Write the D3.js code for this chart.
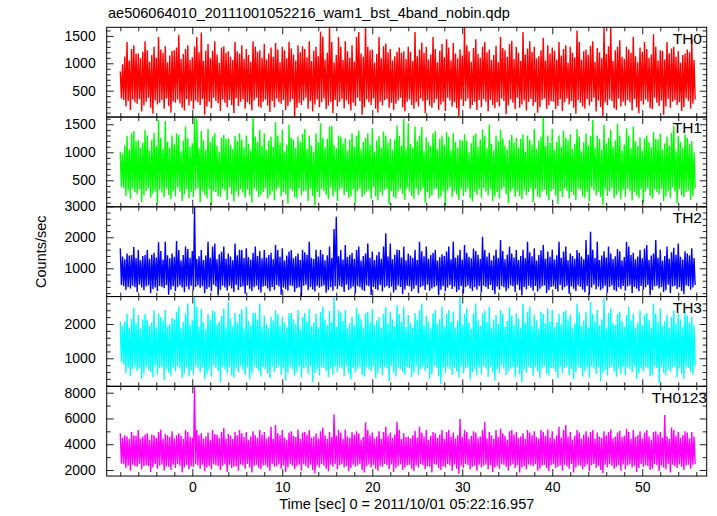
<!DOCTYPE html>
<html><head><meta charset="utf-8">
<script src="https://cdn.jsdelivr.net/npm/d3@7"></script>
<style>
body{margin:0;background:#fff}
svg{display:block}
text{font-family:"Liberation Sans",Arial,Helvetica,sans-serif;fill:#000}
</style>
</head><body>
<svg id="c" width="717" height="516"></svg>
<script>
// ---------------- data ----------------
const title = "ae506064010_20111001052216_wam1_bst_4band_nobin.qdp";
const xLabel = "Time [sec] 0 = 2011/10/01 05:22:16.957";
const yLabel = "Counts/sec";
const bandNames = ["TH0", "TH1", "TH2", "TH3", "TH0123"];
const bandColors = ["#ff0000", "#00ff00", "#0000ff", "#00ffff", "#ff00ff"];

// light curves as per-0.25 s bin maxima / minima (counts/sec), first bin starts at t = -8 s
const binStart = -8;
const binWidth = 0.25;

const th0Hi = [
  850,980,1120,1390,1050,1260,1330,1180,1180,1090,1210,1400,1240,1030,1150,1300,1100,1480,1250,1190,1310,1020,1140,1230,1240,1290,1520,1080,1170,1260,1330,1060,
  1110,1300,1480,1200,1560,1040,1230,1350,1090,1230,1400,1160,1010,1290,1310,1190,1220,1120,1060,1390,1220,1180,1330,1080,1260,1150,1030,1400,1300,1210,1240,1100,
  1350,1070,1180,1290,1120,1370,1250,1020,1300,1240,1090,1390,1270,1160,1050,1330,1200,1310,1260,1110,1400,1040,1230,1300,1130,1580,1490,1070,1190,1660,1390,1020,
  1150,1480,1300,1060,1400,1220,1100,1330,1030,1480,1570,1180,1120,1660,1300,1240,1250,1010,1170,1480,1090,1310,1360,1200,1260,1050,1130,1210,1290,1190,1220,1080,
  1300,1210,1040,1570,1130,1250,1380,1190,1300,1070,1160,1480,1260,1020,1230,1350,1110,1440,1290,1050,1370,1180,1090,1250,1140,1660,1330,1220,1030,1280,1440,1170,
  1100,1300,1390,1200,1250,1060,1150,1320,1020,1480,1280,1240,1120,1350,1410,1080,1300,1190,1040,1570,1160,1270,1400,1210,1300,1090,1130,1240,1460,1050,1330,1180,
  1290,1230,1070,1390,1140,1260,1330,1010,1300,1190,1110,1600,1390,1060,1220,1250,1150,1320,1400,1030,1280,1200,1090,1660,1170,1310,1650,1040,1240,1300,1420,1120,
  1080,1300,1250,1190,1480,1130,1020,1290,1210,1390,1260,1100,1160,1530,1300,1050,1240,1230,1070,1390,1180,1270,1300,1120,1220,1010,1150,1180,1250,1200,1440,1060];
const th0Lo = [
  360,330,210,310,150,340,290,260,350,120,230,300,370,190,80,320,250,280,330,170,360,220,100,300,280,340,270,190,140,350,230,310,
  160,320,290,240,350,60,210,300,180,370,310,270,130,340,280,200,330,240,90,360,220,300,350,170,290,250,140,320,370,210,190,300,
  340,230,110,310,200,360,290,260,330,150,220,300,350,30,190,280,240,320,370,170,310,120,250,340,200,290,360,160,230,300,90,330,
  210,300,350,180,320,250,140,280,220,370,310,60,200,340,290,240,360,170,100,300,230,330,350,190,280,150,260,320,370,200,120,300,
  340,240,170,290,210,360,310,90,330,230,190,280,350,150,250,300,130,370,320,210,290,180,40,340,220,310,360,170,240,300,150,330,
  200,350,300,120,330,240,180,290,210,360,310,70,230,340,280,160,370,190,250,320,140,300,350,220,290,100,200,330,360,170,240,310,
  300,160,220,340,130,290,360,250,310,190,80,330,280,210,170,350,230,300,370,120,320,200,30,290,240,340,310,180,150,360,210,300,
  230,330,290,140,350,200,90,310,250,340,300,180,160,370,280,220,320,60,210,350,190,300,330,240,290,130,200,360,310,170,260,340];

const th1Hi = [
  1010,980,1120,1290,1050,1340,1380,1200,1220,1090,1170,1400,1300,1030,1230,1350,1110,1580,1260,1060,1560,1190,1080,1300,1140,1340,1310,1020,1210,1460,1250,1100,
  1160,1630,1600,1070,1380,1220,1040,1420,1180,1280,1340,1110,1010,1260,1310,1240,1250,1130,1060,1290,1200,1340,1230,1090,1300,1150,1030,1650,1280,1190,1400,1120,
  1340,1050,1210,1280,1100,1540,1300,1170,1400,1020,1140,1490,1260,1230,1080,1280,1190,1330,1420,1060,1300,1120,1010,1340,1180,1520,1260,1090,1240,1460,1470,1130,
  1070,1300,1280,1160,1250,1030,1220,1340,1100,1300,1390,1050,1190,1260,1340,1140,1430,1010,1210,1290,1080,1370,1300,1170,1240,1040,1230,1480,1290,1120,1600,1060,
  1520,1150,1090,1460,1200,1300,1450,1020,1270,1180,1110,1340,1380,1060,1240,1300,1130,1360,1280,1040,1340,1190,1080,1230,1210,1320,1210,1000,1160,1300,1340,1100,
  1230,1400,1290,1070,1490,1150,1030,1300,1200,1400,1250,1120,1050,1220,1310,1180,1260,1090,1240,1320,1010,1300,1230,1140,1420,1060,1210,1280,1650,1110,1300,1170,
  1420,1040,1190,1300,1100,1390,1260,1220,1320,1060,1150,1410,1280,1020,1180,1340,1130,1290,1580,1080,1300,1240,1050,1490,1160,1260,1400,1100,1210,1510,1290,1030,
  1140,1430,1300,1070,1460,1200,1110,1270,1030,1250,1300,1180,1090,1360,1240,1230,1330,1050,1160,1280,1120,1350,1470,1010,1290,1190,1080,1320,1260,1150,1200,1000];
const th1Lo = [
  380,360,220,320,170,350,290,250,340,110,230,310,360,190,260,300,90,330,280,200,350,240,160,310,210,370,300,130,250,340,180,290,
  200,330,360,110,300,240,180,340,60,310,290,220,200,350,320,150,370,250,120,300,210,340,280,190,330,230,100,360,310,200,240,290,
  350,170,230,300,140,330,370,210,290,250,80,340,310,200,180,360,230,300,320,130,350,220,50,290,200,340,310,240,160,370,210,300,
  130,330,360,240,290,190,220,340,100,310,350,200,250,300,320,170,370,210,140,290,230,330,350,70,310,200,180,300,340,250,150,360,
  300,220,160,340,240,310,360,100,290,190,230,330,350,170,210,300,40,320,370,200,310,250,150,340,220,290,350,180,120,300,240,330,
  190,360,300,230,340,130,210,290,170,330,370,250,90,310,350,200,300,220,160,320,240,290,360,110,340,210,190,300,330,230,140,310,
  340,230,80,300,200,360,310,170,290,240,150,350,330,210,190,300,120,370,320,230,290,200,60,340,220,310,360,180,240,300,160,330,
  200,350,310,140,290,230,190,340,100,300,360,220,170,330,290,250,350,130,210,310,180,370,300,90,340,230,200,290,320,150,220,360];

const th2Hi = [
  1640,1380,1290,1480,1410,1430,1690,1330,1590,1260,1400,1430,1590,1310,1440,1500,1350,1840,1560,1280,1860,1420,1320,1480,1370,1880,1590,1250,1430,1700,1620,1340,
  1560,2970,1300,1390,1590,1270,1410,1860,1340,1700,1800,1290,1450,1530,1700,1310,1480,1380,1260,1800,1420,1600,1590,1330,1650,1360,1280,1500,1700,1400,1560,1320,
  1590,1350,1430,1500,1290,1750,1590,1370,1650,1250,1410,1540,1590,1320,1390,1480,1270,1590,1520,1440,1860,1340,1300,1600,1380,1590,1450,1260,1420,1700,1330,2270,
  2660,1390,1590,1280,1750,1360,1430,1500,1300,1590,1700,1250,1400,1480,1800,1340,1540,1270,1420,1530,1310,1700,2130,1380,1800,1290,1440,1600,1590,1350,1700,1260,
  1480,1410,1330,1600,1270,1860,1550,1390,1700,1310,1430,1500,1590,1250,1360,1450,1400,1540,1700,1290,1860,1340,1420,1600,1280,1750,1500,1370,1320,1640,1560,1440,
  1300,2020,1590,1380,1500,1260,1410,1600,1330,1910,1560,1290,1440,1700,1480,1350,1590,1270,1400,1600,1320,1860,1520,1390,1650,1250,1430,1580,1750,1310,1540,1370,
  1600,1280,1420,1860,1340,1540,1700,1260,1480,1400,1310,1590,1500,1380,1290,1910,1440,2180,1600,1330,1860,1270,1410,1550,1350,1700,1480,1300,1390,1620,1550,1250,
  1360,1860,1700,1430,1500,1290,1380,1590,1320,1640,1750,1270,1410,1480,1910,1340,1600,1250,1400,1700,1310,1520,1660,1440,1800,1370,1280,1550,1480,1420,1650,1330];
const th2Lo = [
  460,420,300,400,350,440,390,240,470,380,290,410,450,200,330,380,270,430,400,360,460,150,310,420,260,390,450,380,230,410,320,440,
  290,400,450,370,420,200,330,390,260,470,410,120,310,440,380,280,430,350,240,460,300,400,420,180,450,340,270,390,440,310,220,410,
  430,350,260,400,300,460,410,150,380,330,280,450,420,240,360,390,100,440,470,290,400,320,250,430,370,410,450,210,300,390,280,420,
  330,440,400,240,470,300,350,410,200,430,390,310,270,450,420,140,400,330,290,460,250,380,430,360,410,220,300,450,400,170,320,440,
  410,260,340,450,200,390,430,300,470,280,350,400,440,130,310,420,260,380,460,330,410,240,300,430,190,400,450,350,270,390,310,420,
  220,440,400,330,460,290,160,410,310,430,390,260,350,450,420,240,470,300,120,400,320,440,380,280,430,250,340,410,450,200,300,400,
  420,330,250,460,300,390,440,180,410,340,270,450,400,310,230,430,150,380,470,320,410,290,350,440,210,400,450,300,260,390,330,430,
  280,410,450,200,400,340,260,430,310,390,460,130,300,420,440,350,400,240,290,470,200,410,430,330,390,270,160,450,420,310,380,460];

const th3Hi = [
  2070,1950,2080,2300,1900,2150,2480,2020,2260,1870,2130,2300,2120,1960,2050,2400,1890,2310,2200,2100,2410,1930,2000,2180,2140,2360,2520,1880,2060,2300,2600,1980,
  2110,2780,2500,1920,2440,2040,1860,2300,2120,2400,2350,1990,2070,2230,2450,1900,2650,2150,1940,2320,2030,2290,2430,1870,2500,2090,1970,2330,2310,2140,2600,1910,
  2250,2010,1880,2200,2100,2400,2300,1950,2210,2060,1900,2310,2320,2130,1990,2410,1860,2200,2320,2080,2440,1930,2040,2300,1890,2350,2500,2120,1970,2380,2050,2790,
  1920,2400,2340,2090,2410,1870,2020,2210,1960,2470,2300,2140,1900,2310,2360,2050,2440,1980,2110,2210,1880,2300,2500,2000,2360,2130,1940,2550,2300,2070,2500,1910,
  2260,2030,1890,2320,2120,2400,2600,1960,2250,2080,1870,2310,2400,2010,2140,2510,1930,2300,2410,2060,2350,1900,2100,2790,1980,2300,2460,2040,1860,2310,2600,2120,
  1950,2310,2400,2070,2500,1880,2130,2260,2000,2410,2300,1920,2090,2480,2250,1970,2310,2150,1890,2600,2040,2350,2500,1940,2280,2110,1870,2360,2300,2020,2460,2080,
  2410,1910,2060,2300,1990,2350,2400,2130,2280,1880,2020,2600,2330,1950,2100,2360,1900,2650,2300,2070,2410,1960,2140,2750,1870,2330,2460,2030,1980,2300,2350,2090,
  1930,2260,2500,2110,2300,1890,2040,2400,1970,2280,2320,2120,1900,2600,2310,2060,2460,1950,2080,2260,1880,2210,2400,2010,2300,2140,1920,2360,2250,2050,2210,1960];
const th3Lo = [
  900,820,560,720,480,690,760,620,700,400,550,740,670,600,450,780,530,710,750,350,680,580,500,730,620,770,700,430,560,740,480,660,
  520,760,700,600,730,390,540,680,470,790,720,620,300,750,690,560,740,500,440,710,590,770,670,510,730,380,560,760,700,620,470,740,
  690,560,420,750,600,720,780,520,700,350,580,740,680,490,610,760,440,710,730,540,770,300,570,690,500,750,720,620,450,700,520,760,
  600,740,700,480,770,550,380,720,590,690,750,510,460,730,680,620,760,420,560,710,500,740,700,330,780,580,470,720,690,610,520,750,
  720,450,590,760,510,690,740,620,710,400,540,770,730,480,250,700,570,750,680,520,720,610,440,760,560,700,740,380,590,690,500,730,
  540,760,710,460,740,600,350,690,570,780,720,510,620,700,750,450,730,530,300,680,580,760,710,490,740,610,430,700,770,550,500,720,
  700,600,420,740,560,720,770,510,690,380,590,750,710,470,620,730,440,760,700,540,740,330,580,680,500,720,760,610,460,700,540,750,
  510,730,690,590,760,400,560,710,620,740,700,470,530,770,720,280,750,580,500,690,610,730,760,450,700,550,390,740,720,600,520,780];

const th0123Hi = [
  4850,4500,4700,4600,4400,4950,4700,4650,5100,4450,4600,4750,4850,4350,4750,4700,4500,4950,5150,4400,4800,4700,4550,5000,4450,4700,4850,4650,4400,5100,4950,4600,
  4500,8450,5100,4700,4850,4400,4600,4900,4350,5100,4800,4750,4500,4950,5250,4450,4800,4650,4400,4950,4700,5100,4850,4550,4950,4350,4600,5000,4700,4500,5100,4750,
  4950,4450,4600,5350,4400,5490,4850,4700,5100,4500,4350,4900,5000,4650,4550,5150,4400,4900,4950,4750,5100,4500,4600,4850,4450,5000,5300,4700,4400,4950,4550,6320,
  4650,5100,4900,4400,5150,4600,4500,4950,4750,5000,4850,4350,4550,5700,5100,4700,4900,4450,4600,5000,4400,4950,5350,4650,4900,4500,4750,5740,5100,4400,4850,4550,
  4600,4450,4700,5050,4500,5350,4900,4600,5100,4350,4650,4950,4850,4500,4750,5100,4400,4950,5100,4600,4900,4450,4700,5950,4550,5100,4950,4400,4650,5000,4900,4500,
  4600,5100,5740,4450,4950,4700,4400,5100,4550,5200,4850,4650,4350,5000,5100,4750,4950,4500,4600,4850,4400,5100,4900,4700,5000,4550,4450,5100,4950,4650,5150,4500,
  5000,4400,4700,5350,4500,5100,5490,4600,4950,4350,4650,5100,4900,4450,4750,5000,4550,4950,5100,4400,4900,4600,4500,5000,4700,4950,5150,4450,4600,4900,5050,4550,
  4650,5200,4950,4400,5100,4550,4700,5000,4450,4900,5100,4600,4350,4950,5000,4750,4950,4500,6260,4600,4400,5300,5100,4650,4950,4500,4700,5000,4900,4450,4950,4600];
const th0123Lo = [
  2500,2450,2150,2350,1950,2400,2300,2250,2480,2050,2300,2380,2320,1850,2200,2450,2100,2360,2420,1950,2280,2250,2000,2400,2150,2470,2340,1800,2200,2390,2050,2300,
  2250,2440,2360,2100,2410,1900,2200,2300,2050,2470,2380,2300,2000,2330,2450,1850,2400,2150,2250,2290,1950,2430,2370,2100,2460,2200,1800,2320,2410,2150,2050,2350,
  2390,2200,1950,2460,2250,2310,2420,2100,2370,1850,2200,2480,2340,2050,2300,2400,1950,2450,2300,2150,2410,2000,1750,2360,2200,2470,2330,2100,1900,2400,2250,2440,
  2050,2380,2450,2200,2320,1900,2150,2410,2250,2360,2470,2000,1800,2300,2430,2200,2390,2100,1950,2340,2250,2460,2380,2050,2420,1850,2150,2310,2440,2000,2200,2370,
  2410,2100,1900,2350,2200,2470,2380,2050,2320,2250,1800,2440,2400,2150,2000,2290,2200,2450,2370,1950,2420,2100,1700,2330,2150,2460,2390,2050,2250,2340,1950,2410,
  2200,2360,2430,2050,2380,1850,2200,2310,2100,2470,2400,2250,1950,2340,2450,2150,2390,1800,2200,2300,2050,2420,2370,2300,2460,1950,2100,2330,2410,2150,1900,2380,
  2440,2150,2250,2350,1950,2410,2300,2100,2470,1800,2200,2390,2330,2050,2250,2420,1900,2370,2460,2150,2310,2000,1750,2400,2200,2450,2340,2100,2250,2390,1950,2430,
  2050,2370,2420,2200,2330,1850,2150,2460,2250,2390,2310,2000,2100,2440,2380,1900,2350,2200,2050,2470,1800,2400,2320,2150,2430,2250,2000,2360,2410,2100,2400,2450];

const seriesHi = [th0Hi, th1Hi, th2Hi, th3Hi, th0123Hi];
const seriesLo = [th0Lo, th1Lo, th2Lo, th3Lo, th0123Lo];

// axis ranges and ticks
const xDomain = [-9.51, 57.16];
const xMajorTicks = [0, 10, 20, 30, 40, 50];
const xMinorTicks = [-8,-6,-4,-2,2,4,6,8,12,14,16,18,22,24,26,28,32,34,36,38,42,44,46,48,52,54,56];
const yDomains = [[19, 1657], [27, 1629], [89, 2984], [184, 2800], [1530, 8497]];
const yMajorTicks = [[500, 1000, 1500], [500, 1000, 1500], [1000, 2000, 3000], [1000, 2000], [2000, 4000, 6000, 8000]];
const yMinorStep = [100, 100, 200, 200, 1000];

// ---------------- layout ----------------
const svg = d3.select("#c");
const L = 106.7, R = 706.7, T = 27.3, B = 476.05;
const nP = bandNames.length;
const pH = (B - T) / nP;
const x = d3.scaleLinear().domain(xDomain).range([L, R]);
const majT = 7, minT = 4;
const fs = 14;

bandNames.forEach((name, p) => {
  const top = T + p * pH, bot = top + pH;
  const y = d3.scaleLinear().domain(yDomains[p]).range([bot, top]);
  const g = svg.append("g");

  const cid = "clip" + p;
  svg.append("clipPath").attr("id", cid).append("rect")
    .attr("x", L).attr("y", top).attr("width", R - L).attr("height", pH);

  // data path: per-bin max then min, as a continuous line
  const pts = [];
  seriesHi[p].forEach((h, i) => {
    const t = binStart + i * binWidth;
    pts.push([t, h]);
    pts.push([t + binWidth / 2, seriesLo[p][i]]);
  });
  g.append("path")
    .attr("clip-path", `url(#${cid})`)
    .attr("d", d3.line().x(d => x(d[0])).y(d => y(d[1]))(pts))
    .attr("fill", "none")
    .attr("stroke", bandColors[p])
    .attr("stroke-width", 1.4)
    .attr("stroke-linejoin", "bevel");

  const [d0, d1] = yDomains[p];
  const st = yMinorStep[p];
  const minors = d3.range(Math.ceil(d0 / st) * st, d1, st).filter(v => !yMajorTicks[p].includes(v));

  [d3.axisLeft(y).tickValues(yMajorTicks[p]).tickSize(-majT).tickPadding(11).tickFormat(d3.format("d")),
   d3.axisLeft(y).tickValues(minors).tickSize(-minT).tickFormat("")].forEach(a => {
    const ag = g.append("g").attr("transform", `translate(${L},0)`).call(a);
    ag.select(".domain").remove();
  });
  [d3.axisRight(y).tickValues(yMajorTicks[p]).tickSize(-majT).tickFormat(""),
   d3.axisRight(y).tickValues(minors).tickSize(-minT).tickFormat("")].forEach(a => {
    const ag = g.append("g").attr("transform", `translate(${R},0)`).call(a);
    ag.select(".domain").remove();
  });
  const isLast = p === nP - 1;
  [[d3.axisBottom(x).tickValues(xMajorTicks).tickSize(-majT).tickPadding(6).tickFormat(isLast ? d3.format("d") : ""), bot],
   [d3.axisBottom(x).tickValues(xMinorTicks).tickSize(-minT).tickFormat(""), bot],
   [d3.axisTop(x).tickValues(xMajorTicks).tickSize(-majT).tickFormat(""), top],
   [d3.axisTop(x).tickValues(xMinorTicks).tickSize(-minT).tickFormat(""), top]].forEach(([a, yy]) => {
    const ag = g.append("g").attr("transform", `translate(0,${yy})`).call(a);
    ag.select(".domain").remove();
  });

  g.append("rect").attr("x", L).attr("y", top).attr("width", R - L).attr("height", pH)
    .attr("fill", "none").attr("stroke", "#000").attr("stroke-width", 1);

  g.append("text").attr("x", p === nP - 1 ? 707 : 702).attr("y", top + 16.3)
    .attr("text-anchor", "end").attr("font-size", 15.5).text(name);
});

svg.selectAll(".tick line").attr("stroke", "#222").attr("stroke-width", 1);
svg.selectAll(".tick text").attr("font-size", fs).attr("font-family", '"Liberation Sans",Arial,sans-serif').attr("fill", "#000");

svg.append("text").attr("x", 108).attr("y", 18).attr("font-size", 14.5).text(title);
svg.append("text").attr("x", (L + R) / 2).attr("y", 509).attr("text-anchor", "middle")
  .attr("font-size", 14.5).text(xLabel);
svg.append("text").attr("transform", `translate(46,${(T + B) / 2}) rotate(-90)`)
  .attr("text-anchor", "middle").attr("font-size", 14.5).text(yLabel);
</script>
</body></html>
